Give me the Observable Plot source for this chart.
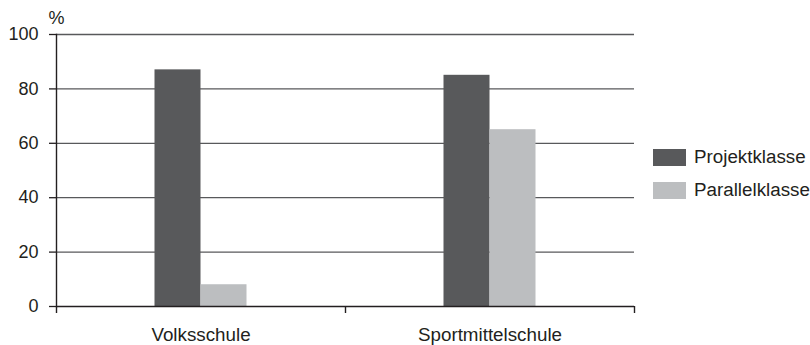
<!DOCTYPE html>
<html>
<head>
<meta charset="utf-8">
<script src="https://cdn.jsdelivr.net/npm/d3@7"></script>
<script src="https://cdn.jsdelivr.net/npm/@observablehq/plot@0.6"></script>
<style>
  html, body { margin: 0; padding: 0; background: #fff; }
  #wrap { position: relative; width: 810px; height: 345px; font-family: "Liberation Sans", Arial, sans-serif; }
  .leg { position: absolute; left: 653px; display: flex; align-items: center; font-size: 18.8px; color: #231f20; white-space: nowrap; }
  .sw { width: 33px; height: 17px; margin-right: 8px; }
</style>
</head>
<body>
<div id="wrap"></div>
<script>
const schools = ["Volksschule", "Sportmittelschule"];
const series = ["Projektklasse", "Parallelklasse"];
const projekt = [87, 85];
const parallel = [8, 65];
const colors = ["#58595b", "#bcbec0"];
const yTicks = [0, 20, 40, 60, 80, 100];

const W = 810, H = 345, mL = 56, mR = 176, mT = 34, mB = 39;
const bw = (W - mL - mR) / schools.length;
const barW = 46;

const rows = [];
schools.forEach((s, i) => {
  rows.push({school: s, series: series[0], value: projekt[i]});
  rows.push({school: s, series: series[1], value: parallel[i]});
});

const plot = Plot.plot({
  width: W, height: H,
  marginLeft: mL, marginRight: mR, marginTop: mT, marginBottom: mB,
  style: {fontFamily: "Liberation Sans, Arial, sans-serif", fontSize: "18px", color: "#231f20", background: "#fff", overflow: "visible"},
  x: {domain: schools, padding: 0, label: null},
  y: {domain: [0, 100], ticks: yTicks, label: null},
  color: {domain: series, range: colors},
  marks: [
    Plot.ruleY(yTicks.filter(d => d > 0), {stroke: "#58595b", strokeWidth: 1.3}),
    Plot.barY(rows.filter(d => d.series === series[0]), {x: "school", y: "value", fill: "series", insetLeft: bw/2 - barW, insetRight: bw/2}),
    Plot.barY(rows.filter(d => d.series === series[1]), {x: "school", y: "value", fill: "series", insetLeft: bw/2, insetRight: bw/2 - barW}),
    Plot.ruleY([0], {stroke: "#231f20", strokeWidth: 1.4}),
    Plot.frame({anchor: "left", stroke: "#231f20", strokeWidth: 1.4}),
    Plot.axisY({ticks: yTicks, tickSize: 7, tickPadding: 11, fontSize: 18, stroke: "#231f20", strokeWidth: 1.3, label: null}),
    Plot.axisX({ticks: schools, tickSize: 7, tickFormat: () => "", dx: -bw/2, stroke: "#231f20", strokeWidth: 1.4, label: null}),
    Plot.axisX({ticks: [schools[schools.length - 1]], tickSize: 7, tickFormat: () => "", dx: bw/2, stroke: "#231f20", strokeWidth: 1.4, label: null}),
    Plot.axisX({ticks: schools, tickSize: 0, tickPadding: 21, fontSize: 18.8, label: null}),
    Plot.text(["%"], {frameAnchor: "top-left", textAnchor: "middle", lineAnchor: "middle", dy: -16, fontSize: 18, fill: "#231f20"})
  ]
});

const wrap = document.getElementById("wrap");
wrap.appendChild(plot);
series.forEach((s, i) => {
  const d = document.createElement("div");
  d.className = "leg";
  d.style.top = (146 + i * 33) + "px";
  d.innerHTML = `<div class="sw" style="background:${colors[i]}"></div><span>${s}</span>`;
  wrap.appendChild(d);
});
</script>
</body>
</html>
